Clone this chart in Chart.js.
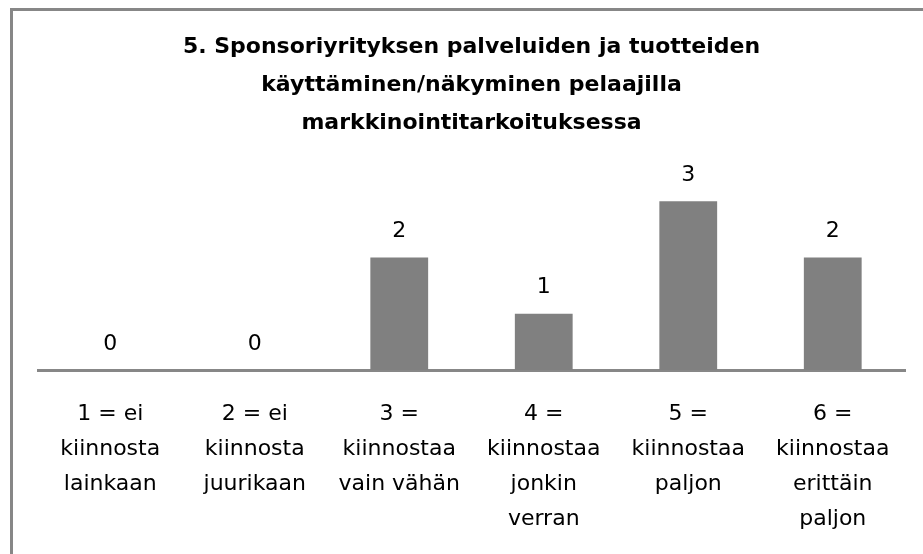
<!DOCTYPE html>
<html>
<head>
<meta charset="utf-8">
<script src="https://cdn.jsdelivr.net/npm/chart.js@4.4.1/dist/chart.umd.min.js"></script>
<style>
  html, body { margin: 0; padding: 0; background: #fff; }
  canvas { display: block; }
</style>
</head>
<body>
<canvas id="bar-chart" width="923" height="554"></canvas>
<script>
// data
var categories = [
    ['1 = ei', 'kiinnosta', 'lainkaan'],
    ['2 = ei', 'kiinnosta', 'juurikaan'],
    ['3 =', 'kiinnostaa', 'vain vähän'],
    ['4 =', 'kiinnostaa', 'jonkin', 'verran'],
    ['5 =', 'kiinnostaa', 'paljon'],
    ['6 =', 'kiinnostaa', 'erittäin', 'paljon']
];
var answers = [0, 0, 2, 1, 3, 2];
var titleLines = [
    '5. Sponsoriyrityksen palveluiden ja tuotteiden',
    'käyttäminen/näkyminen pelaajilla',
    'markkinointitarkoituksessa'
];

var fontName = '"DejaVu Sans", sans-serif';

// gray frame along the top and left edge
var framePlugin = {
    id: 'frame',
    beforeDraw: function (chart) {
        var ctx = chart.ctx;
        ctx.save();
        ctx.fillStyle = '#fff';
        ctx.fillRect(0, 0, chart.width, chart.height);
        ctx.strokeStyle = '#878787';
        ctx.lineWidth = 3;
        ctx.beginPath();
        ctx.moveTo(11.5, chart.height);
        ctx.lineTo(11.5, 9.5);
        ctx.lineTo(chart.width, 9.5);
        ctx.stroke();
        ctx.restore();
    }
};

// value labels above the bars
var valueLabels = {
    id: 'valueLabels',
    afterDatasetsDraw: function (chart) {
        var ctx = chart.ctx;
        var meta = chart.getDatasetMeta(0);
        ctx.save();
        ctx.font = '22px ' + fontName;
        ctx.fillStyle = '#000';
        ctx.textAlign = 'center';
        ctx.textBaseline = 'middle';
        meta.data.forEach(function (bar, i) {
            ctx.fillText(String(answers[i]), bar.x, bar.y - 26);
        });
        ctx.restore();
    }
};

var chart = document.getElementById('bar-chart');

let barChart = new Chart(chart, {
    type: 'bar',
    data: {
        labels: categories,
        datasets: [{
            data: answers,
            backgroundColor: '#808080',
            borderWidth: 0,
            barPercentage: 0.4,
            categoryPercentage: 1
        }]
    },
    options: {
        responsive: false,
        animation: false,
        layout: {
            padding: { left: 38, right: 18, top: 28, bottom: -10 }
        },
        plugins: {
            legend: { display: false },
            tooltip: { enabled: false },
            title: {
                display: true,
                text: titleLines,
                color: '#000',
                font: { family: fontName, size: 22, weight: 'bold', lineHeight: '38px' },
                padding: { top: 0, bottom: 3 }
            }
        },
        scales: {
            x: {
                grid: { display: false, drawTicks: false },
                border: { display: true, color: '#878787', width: 3 },
                ticks: {
                    color: '#000',
                    padding: 27,
                    maxRotation: 0,
                    autoSkip: false,
                    font: { family: fontName, size: 22, lineHeight: '35px' }
                }
            },
            y: {
                display: false,
                min: 0,
                max: 4
            }
        }
    },
    plugins: [framePlugin, valueLabels]
});
</script>
</body>
</html>
